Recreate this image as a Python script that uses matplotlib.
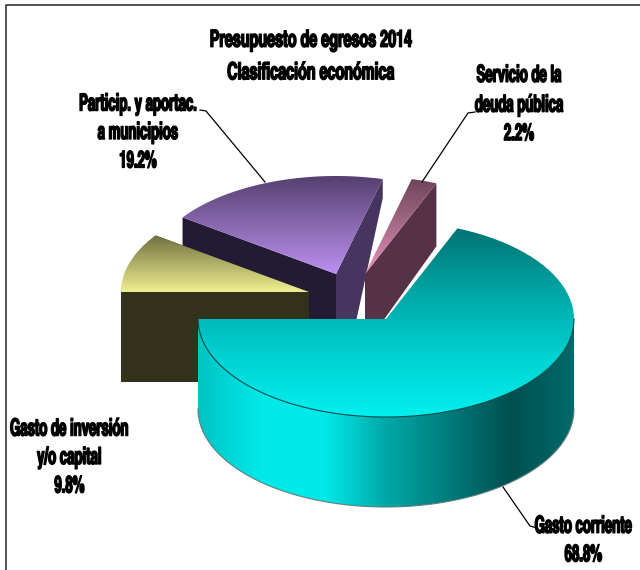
import numpy as np
import matplotlib
matplotlib.use("Agg")
import matplotlib.pyplot as plt
from matplotlib.colors import LinearSegmentedColormap
from matplotlib.patches import PathPatch, Polygon
from matplotlib.path import Path
from matplotlib.patheffects import AbstractPathEffect
from matplotlib.transforms import Affine2D

plt.rcParams['font.family'] = ['TeX Gyre Heros Cn', 'Liberation Sans', 'DejaVu Sans']

title_lines = ["Presupuesto de egresos 2014", "Clasificación económica"]
categories = ["Gasto corriente", "Servicio de la\ndeuda pública", "Particip. y aportac.\na municipios", "Gasto de inversión\ny/o capital"]
values = [68.8, 2.2, 19.2, 9.8]

RX, RY, DEPTH = 188, 98, 90
START = 180.0

fig = plt.figure(figsize=(6.4, 5.7), dpi=100)
ax = fig.add_axes([0, 0, 1, 1])
ax.set_xlim(0, 640)
ax.set_ylim(570, 0)
ax.axis('off')

class Squeeze(AbstractPathEffect):
    # the labels in the picture are narrow and heavy, squeeze around xc (pixels)
    def __init__(self, xc, sx=0.68, stroke=1.0):
        super().__init__()
        self.xc, self.sx, self.stroke = xc, sx, stroke

    def draw_path(self, renderer, gc, tpath, affine, rgbFace=None):
        gc0 = renderer.new_gc()
        gc0.copy_properties(gc)
        gc0.set_linewidth(self.stroke)
        gc0.set_foreground('black')
        t = affine + Affine2D().translate(-self.xc, 0).scale(self.sx, 1).translate(self.xc, 0)
        renderer.draw_path(gc0, tpath, t, rgbFace)
        gc0.restore()

def rim(cx, cy, a0, a1, n=80):
    t = np.radians(np.linspace(a0, a1, n))
    return np.column_stack([cx + RX*np.cos(t), cy - RY*np.sin(t)])

def gradient(path, colors, vertical=True, z=1):
    # gradient image clipped to the shape, limits taken from the shape itself
    x0, y0 = path.vertices.min(axis=0)
    x1, y1 = path.vertices.max(axis=0)
    cmap = LinearSegmentedColormap.from_list("g", colors)
    g = np.linspace(0, 1, 256)
    g = g[:, None] if vertical else g[None, :]
    im = ax.imshow(g, cmap=cmap, extent=[x0, x1, y1, y0], origin='upper', aspect='auto', zorder=z, interpolation='bilinear')
    patch = PathPatch(path, transform=ax.transData, fc='none', ec='none')
    ax.add_patch(patch)
    im.set_clip_path(patch)

def closed(pts):
    return Path(np.vstack([pts, pts[0]]), closed=True)

def radial_face(cx, cy, a, rim_depth, apex_depth, color, z):
    p = rim(cx, cy, a, a, 1)[0]
    ax.add_patch(Polygon([(cx, cy), p, (p[0], p[1]+rim_depth), (cx, cy+apex_depth)], closed=True, fc=color, ec='none', zorder=z))

def label(x, y, s, ha='center', spacing=1.38, sx=0.68):
    ax.text(x, y, s, ha=ha, ma='center', va='center', fontweight='bold', fontsize=17, color='black', zorder=10,
            linespacing=spacing, path_effects=[Squeeze(x, sx)])

edges = START + np.concatenate([[0], np.cumsum(values)]) * 3.6 / (sum(values)/100)

# angle limits per slice
a_cor = (edges[0], edges[1])
a_ser = (edges[1], edges[2])
a_par = (edges[2] - 360, edges[3] - 360)
a_inv = (edges[3] - 360, edges[4] - 360)

# Participaciones (exploded to upper left)
cx, cy = 336, 274
radial_face(cx, cy, a_par[1], DEPTH, DEPTH, '#231a33', 2)
radial_face(cx, cy, a_par[0], 19, 140, '#46365f', 2)
top = np.vstack([[cx, cy], rim(cx, cy, *a_par)])
gradient(closed(top), ['#55406f', '#8a68b0', '#bb90f0'], z=3)

# Servicio de la deuda (exploded upward)
cx, cy = 365, 274
radial_face(cx, cy, a_ser[0], 63, 72, '#553245', 2)
top = np.vstack([[cx, cy], rim(cx, cy, a_ser[0], a_ser[1])])
gradient(closed(top), ['#6e4558', '#a86c8a', '#ee90c0'], z=3)

# Gasto de inversion
cx, cy = 309, 292
radial_face(cx, cy, a_inv[1], DEPTH, DEPTH, '#33301c', 4)
radial_face(cx, cy, a_inv[0], DEPTH, DEPTH, '#33301c', 4)
top = np.vstack([[cx, cy], rim(cx, cy, *a_inv)])
gradient(closed(top), ['#6f6f40', '#b0b068', '#eeee90'], z=5)

# Gasto corriente
cx, cy = 386, 319
front = rim(cx, cy, 180, 360)
side = np.vstack([front, front[::-1] + [0, DEPTH]])
gradient(closed(side), ['#00c4c4', '#00e8e8', '#00eaea', '#00a8a8', '#007c7c', '#004f4f', '#006a6a'], vertical=False, z=6)
top = np.vstack([[cx, cy], rim(cx, cy, *a_cor)])
gradient(closed(top), ['#007272', '#00a5a5', '#00d0d0', '#00f0f0'], z=7)
ax.plot(front[:, 0], front[:, 1], color='#004a4a', lw=0.8, zorder=8)
ax.plot(front[:, 0], front[:, 1] + DEPTH, color='#5f7f7f', lw=0.8, zorder=8)

# frame
ax.plot([6, 6, 640], [570, 5, 5], color='#333333', lw=1.2, zorder=9)

# leader lines
ax.plot([200, 206, 265], [110, 111, 182], color='black', lw=0.9, zorder=9)
ax.plot([475, 468, 422], [112, 113, 182], color='black', lw=0.9, zorder=9)
ax.plot([503, 530, 537], [487, 526, 528], color='black', lw=0.9, zorder=9)

label(311, 57, "\n".join(title_lines), spacing=1.62, sx=0.74)
label(138, 133, categories[2] + "\n%.1f%%" % values[2])
label(519, 105, categories[1] + "\n%.1f%%" % values[1])
label(10, 458, categories[3] + "\n%.1f%%" % values[3], ha='left')
label(632, 541, categories[0] + "\n%.1f%%" % values[0], ha='right')

fig.savefig("out.png", dpi=100)
